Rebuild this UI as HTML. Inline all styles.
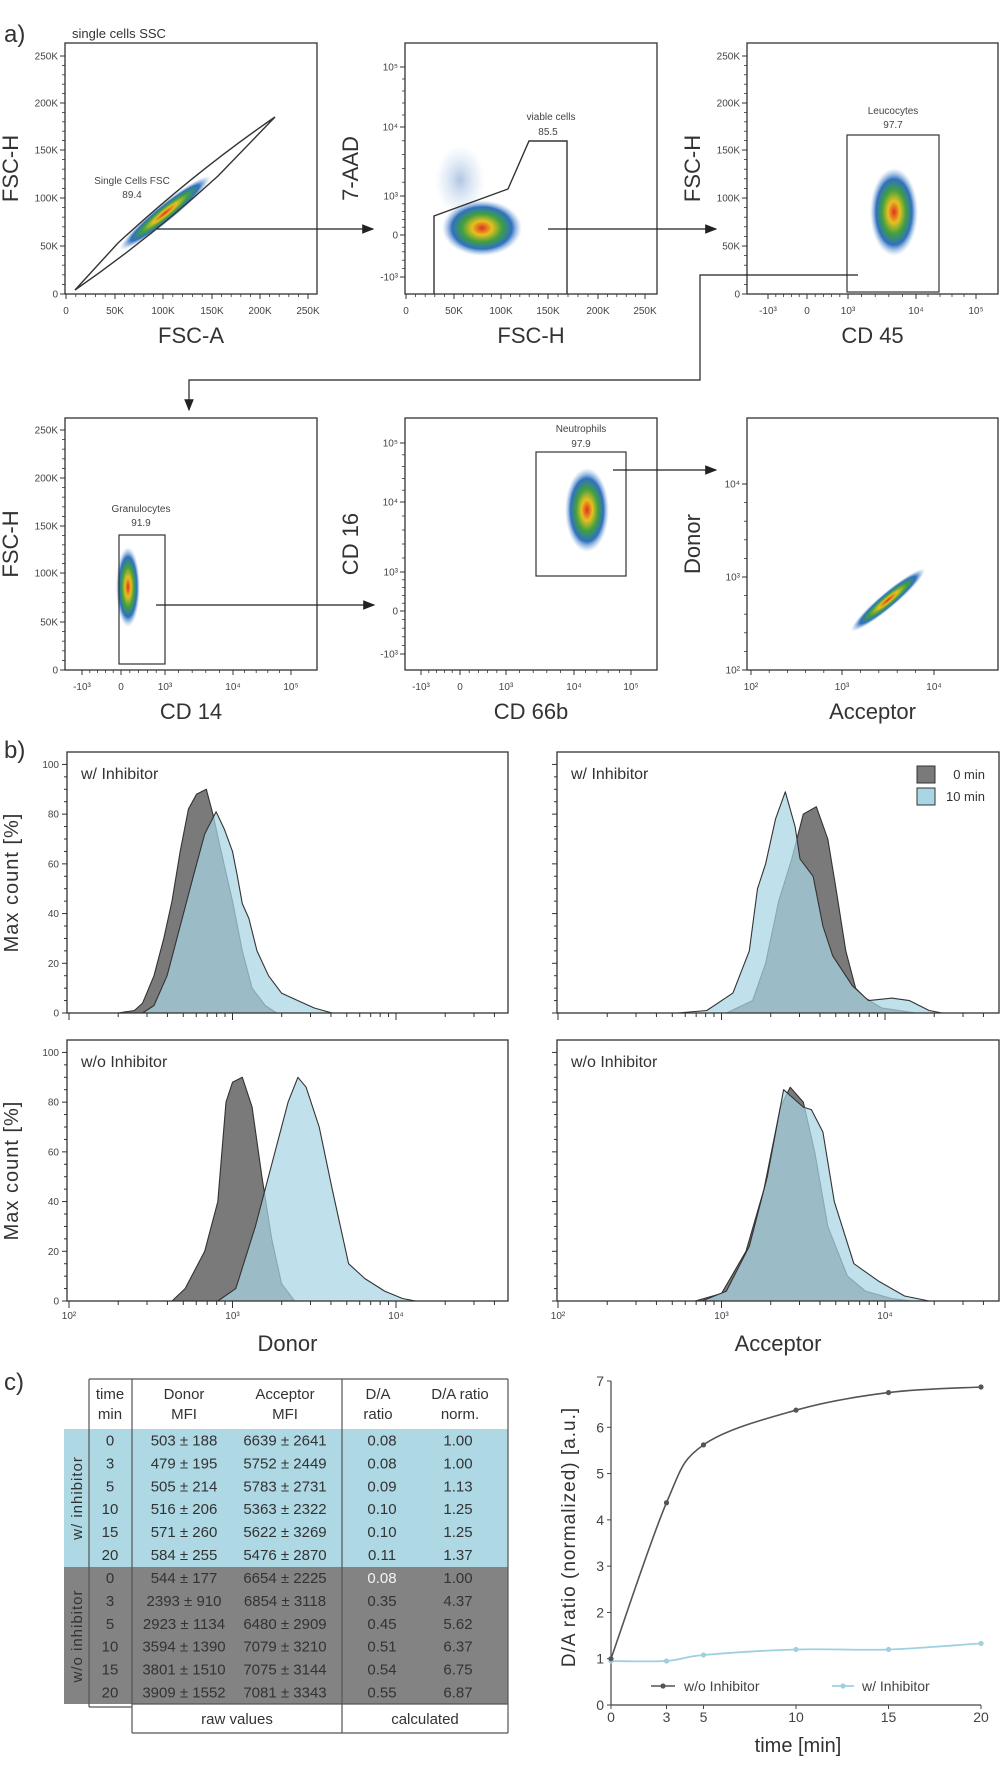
<!DOCTYPE html>
<html><head><meta charset="utf-8"><title>Flow cytometry FRET figure</title>
<style>
html,body{margin:0;padding:0;background:#fff;}
svg{display:block;font-family:"Liberation Sans Narrow","Liberation Sans",sans-serif;}
</style></head>
<body>
<svg id="fig" width="1000" height="1775" viewBox="0 0 1000 1775" xmlns="http://www.w3.org/2000/svg">
<defs>
<radialGradient id="dens" cx="50%" cy="50%" r="50%">
<stop offset="0" stop-color="#e03020"/>
<stop offset="0.25" stop-color="#e8c020"/>
<stop offset="0.5" stop-color="#40a040"/>
<stop offset="0.75" stop-color="#3070c0"/>
<stop offset="1" stop-color="#90b8e0" stop-opacity="0"/>
</radialGradient>
<radialGradient id="sparse" cx="50%" cy="50%" r="50%">
<stop offset="0" stop-color="#5080c0" stop-opacity="0.45"/>
<stop offset="1" stop-color="#90b8e0" stop-opacity="0"/>
</radialGradient>
<marker id="arr" markerWidth="10" markerHeight="8" refX="9" refY="4" orient="auto"><path d="M0,0 L10,4 L0,8 Z" fill="#222"/></marker>
</defs>

<text x="4" y="42" font-size="24" fill="#333">a)</text>
<text x="4" y="758" font-size="24" fill="#333">b)</text>
<text x="4" y="1390" font-size="24" fill="#333">c)</text>
<text x="72" y="38" font-size="13" fill="#333">single cells SSC</text>

<g id="panelsA"></g>

<g>
<ellipse cx="165" cy="213" rx="58" ry="9" transform="rotate(-39 165 213)" fill="url(#dens)"/>
<path d="M75,290 L118,243 Q195,172 275,117 L218,176 Q150,238 75,290 Z" fill="none" stroke="#333" stroke-width="1.4"/>
<text x="132" y="184" font-size="10" fill="#444" text-anchor="middle">Single Cells FSC</text>
<text x="132" y="198" font-size="10" fill="#444" text-anchor="middle">89.4</text>
</g>
<g>
<ellipse cx="460" cy="180" rx="25" ry="35" fill="url(#sparse)"/>
<ellipse cx="482" cy="228" rx="40" ry="28" fill="url(#dens)"/>
<path d="M434,294 L434,216 L508,189 L529,141 L567,141 L567,294" fill="none" stroke="#333" stroke-width="1.4"/>
<text x="551" y="120" font-size="10" fill="#444" text-anchor="middle">viable cells</text>
<text x="548" y="135" font-size="10" fill="#444" text-anchor="middle">85.5</text>
</g>
<g>
<ellipse cx="894" cy="212" rx="24" ry="44" fill="url(#dens)"/>
<rect x="847" y="135" width="92" height="157" fill="none" stroke="#333" stroke-width="1.2"/>
<text x="893" y="114" font-size="10" fill="#444" text-anchor="middle">Leucocytes</text>
<text x="893" y="128" font-size="10" fill="#444" text-anchor="middle">97.7</text>
</g>
<g>
<ellipse cx="128" cy="587" rx="12" ry="40" fill="url(#dens)"/>
<rect x="119" y="535" width="46" height="129" fill="none" stroke="#333" stroke-width="1.2"/>
<text x="141" y="512" font-size="10" fill="#444" text-anchor="middle">Granulocytes</text>
<text x="141" y="526" font-size="10" fill="#444" text-anchor="middle">91.9</text>
</g>
<g>
<ellipse cx="587" cy="510" rx="22" ry="42" fill="url(#dens)"/>
<rect x="536" y="452" width="90" height="124" fill="none" stroke="#333" stroke-width="1.2"/>
<text x="581" y="432" font-size="10" fill="#444" text-anchor="middle">Neutrophils</text>
<text x="581" y="447" font-size="10" fill="#444" text-anchor="middle">97.9</text>
</g>
<g>
<ellipse cx="888" cy="600" rx="48" ry="8" transform="rotate(-40 888 600)" fill="url(#dens)"/>
</g>

<g stroke="#222" stroke-width="1.2" fill="none">
<line x1="157" y1="229" x2="373" y2="229" marker-end="url(#arr)"/>
<line x1="548" y1="229" x2="716" y2="229" marker-end="url(#arr)"/>
<polyline points="858,275 700,275 700,380 189,380 189,410" marker-end="url(#arr)"/>
<line x1="156" y1="605" x2="374" y2="605" marker-end="url(#arr)"/>
<line x1="613" y1="470" x2="716" y2="470" marker-end="url(#arr)"/>
</g>

<g id="panelsB"></g>

<g>
<rect x="917" y="766" width="18" height="17" fill="#7a7a7a" stroke="#333"/>
<text x="985" y="779" font-size="13" fill="#333" text-anchor="end">0 min</text>
<rect x="917" y="788" width="18" height="17" fill="#a9d6e3" stroke="#333"/>
<text x="985" y="801" font-size="13" fill="#333" text-anchor="end">10 min</text>
</g>

<g id="table" font-size="15" fill="#333"></g>

<g id="lineChart"></g>
</svg>

<script>
const tlGrayLog = [2.30,2.40,2.45,2.52,2.58,2.63,2.68,2.73,2.78,2.84,2.88,2.93,3.00,3.06,3.12,3.20,3.27];
const tlGrayVal = [0,1,4,15,30,45,65,82,88,90,80,65,45,25,10,3,0];
const tlBlueLog = [2.45,2.52,2.60,2.68,2.76,2.83,2.90,2.95,3.00,3.03,3.06,3.10,3.15,3.22,3.30,3.40,3.50,3.61];
const tlBlueVal = [0,3,15,35,55,72,81,74,65,55,44,38,25,15,8,5,2,0];
const trGrayLog = [3.03,3.19,3.27,3.35,3.43,3.50,3.58,3.65,3.70,3.76,3.82,3.88,3.98,4.19];
const trGrayVal = [0,5,20,45,62,80,83,70,50,25,10,6,2,0];
const trBlueLog = [2.73,2.91,3.07,3.17,3.22,3.27,3.33,3.39,3.45,3.48,3.56,3.62,3.68,3.80,3.90,4.04,4.15,4.27,4.35];
const trBlueVal = [0,1,8,25,50,60,78,89,75,62,55,35,23,11,5,6,5,1,0];
const blGrayLog = [2.63,2.71,2.83,2.91,2.96,3.00,3.06,3.12,3.18,3.24,3.30,3.38];
const blGrayVal = [0,5,20,40,80,88,90,78,50,25,7,0];
const blBlueLog = [2.91,3.02,3.14,3.26,3.34,3.40,3.45,3.53,3.61,3.71,3.81,3.93,4.04,4.12];
const blBlueVal = [0,5,30,60,80,90,86,70,45,15,9,4,1,0];
const brGrayLog = [2.84,3.00,3.15,3.26,3.36,3.42,3.50,3.57,3.65,3.77,3.88,4.04,4.16];
const brGrayVal = [0,3,20,45,78,86,80,60,30,10,4,1,0];
const brBlueLog = [2.88,3.03,3.17,3.28,3.38,3.50,3.55,3.62,3.69,3.81,3.96,4.12,4.27];
const brBlueVal = [0,4,22,50,85,78,77,68,40,15,8,2,0];
const histYTicks = [0,20,40,60,80,100];
const histXTickLabels = ['10²','10³','10⁴'];
const histXTickLogs = [2,3,4];

const times = [0,3,5,10,15,20];
const woInhibitor = [1.00,4.37,5.62,6.37,6.75,6.87];
const wInhibitor = [0.95,0.95,1.08,1.20,1.20,1.33];
const chartYTicks = [0,1,2,3,4,5,6,7];
const tableTime = ['0','3','5','10','15','20','0','3','5','10','15','20'];
const tableDonor = ['503 ± 188','479 ± 195','505 ± 214','516 ± 206','571 ± 260','584 ± 255','544 ± 177','2393 ± 910','2923 ± 1134','3594 ± 1390','3801 ± 1510','3909 ± 1552'];
const tableAcceptor = ['6639 ± 2641','5752 ± 2449','5783 ± 2731','5363 ± 2322','5622 ± 3269','5476 ± 2870','6654 ± 2225','6854 ± 3118','6480 ± 2909','7079 ± 3210','7075 ± 3144','7081 ± 3343'];
const tableRatio = ['0.08','0.08','0.09','0.10','0.10','0.11','0.08','0.35','0.45','0.51','0.54','0.55'];
const tableNorm = ['1.00','1.00','1.13','1.25','1.25','1.37','1.00','4.37','5.62','6.37','6.75','6.87'];

const NS = 'http://www.w3.org/2000/svg';
function mk(tag, attrs, parent){ const e=document.createElementNS(NS,tag); for(const k in attrs) e.setAttribute(k,attrs[k]); parent.appendChild(e); return e; }
function txt(str, attrs, parent){ const e=mk('text',attrs,parent); e.textContent=str; return e; }

const gA = document.getElementById('panelsA');
const linLab = ['0','50K','100K','150K','200K','250K'];
const bioLab = ['-10³','0','10³','10⁴','10⁵'];
const panels = [
 {name:'fsc-a-vs-fsc-h', box:[65,43,317,294], xp:[66,115,163,212,260,308], xl:linLab, yp:[294,246,198,150,103,56], yl:linLab, xt:'FSC-A', yt:'FSC-H'},
 {name:'fsc-h-vs-7aad', box:[405,43,657,294], xp:[406,454,501,548,598,645], xl:linLab, yp:[277,235,196,127,67], yl:bioLab, xt:'FSC-H', yt:'7-AAD'},
 {name:'cd45-vs-fsc-h', box:[747,43,998,294], xp:[768,807,848,916,976], xl:bioLab, yp:[294,246,198,150,103,56], yl:linLab, xt:'CD 45', yt:'FSC-H'},
 {name:'cd14-vs-fsc-h', box:[65,418,317,670], xp:[82,121,165,233,291], xl:bioLab, yp:[670,622,573,526,478,430], yl:linLab, xt:'CD 14', yt:'FSC-H'},
 {name:'cd66b-vs-cd16', box:[405,418,657,670], xp:[421,460,506,574,631], xl:bioLab, yp:[654,611,572,502,443], yl:bioLab, xt:'CD 66b', yt:'CD 16'},
 {name:'acceptor-vs-donor', box:[747,418,998,670], xp:[751,842,934], xl:['10²','10³','10⁴'], yp:[670,577,484], yl:['10²','10³','10⁴'], xt:'Acceptor', yt:'Donor'}
];
panels.forEach(p=>{
  const g = mk('g',{},gA);
  
  
  const [x0,y0,x1,y1]=p.box;
  const r = mk('rect',{x:x0,y:y0,width:x1-x0,height:y1-y0,fill:'none',stroke:'#333','stroke-width':1.3},g);
  
  
  p.xp.forEach((x,i)=>{
    mk('line',{x1:x,y1:y1,x2:x,y2:y1+5,stroke:'#333','stroke-width':1},g);
    const t=txt(p.xl[i],{x:x,y:y1+20,'font-size':10,'text-anchor':'middle',fill:'#444'},g);
    
    
    if(i < p.xp.length-1){ const nx=p.xp[i+1]; for(let k=1;k < 5;k++){ const mx=x+(nx-x)*k/5; mk('line',{x1:mx,y1:y1,x2:mx,y2:y1+3,stroke:'#333','stroke-width':0.8},g);} }
  });
  p.yp.forEach((y,i)=>{
    mk('line',{x1:x0-5,y1:y,x2:x0,y2:y,stroke:'#333','stroke-width':1},g);
    const t=txt(p.yl[i],{x:x0-7,y:y+3.5,'font-size':10,'text-anchor':'end',fill:'#444'},g);
    
    
    if(i < p.yp.length-1){ const ny=p.yp[i+1]; for(let k=1;k < 5;k++){ const my=y+(ny-y)*k/5; mk('line',{x1:x0-3,y1:my,x2:x0,y2:my,stroke:'#333','stroke-width':0.8},g);} }
  });
  const xt=txt(p.xt,{x:(x0+x1)/2,y:y1+49,'font-size':22,'text-anchor':'middle',fill:'#333'},g);
  
  
  const cx=x0-47, cy=(y0+y1)/2;
  const yt=txt(p.yt,{x:cx,y:cy,'font-size':22,'text-anchor':'middle',fill:'#333',transform:`rotate(-90 ${cx} ${cy})`},g);
  
  
});

const gB = document.getElementById('panelsB');
const hPanels = [
 {name:'donor-with-inhibitor', box:[67,752,508,1013], x0:69, title:'w/ Inhibitor', gL:tlGrayLog, gV:tlGrayVal, bL:tlBlueLog, bV:tlBlueVal, xt:null},
 {name:'acceptor-with-inhibitor', box:[557,752,999,1013], x0:558, title:'w/ Inhibitor', gL:trGrayLog, gV:trGrayVal, bL:trBlueLog, bV:trBlueVal, xt:null},
 {name:'donor-without-inhibitor', box:[67,1040,508,1301], x0:69, title:'w/o Inhibitor', gL:blGrayLog, gV:blGrayVal, bL:blBlueLog, bV:blBlueVal, xt:'Donor'},
 {name:'acceptor-without-inhibitor', box:[557,1040,999,1301], x0:558, title:'w/o Inhibitor', gL:brGrayLog, gV:brGrayVal, bL:brBlueLog, bV:brBlueVal, xt:'Acceptor'}
];
hPanels.forEach((p,pi)=>{
  const g = mk('g',{},gB);
  
  
  const [bx0,by0,bx1,by1]=p.box;
  const dec=163.5;
  const xs = l => p.x0+(l-2)*dec;
  const yUnit = (by1-by0)/105;
  const ys = v => by1 - v*yUnit;
  function area(L,V,fill,name){
    let d=`M${xs(L[0])},${by1}`;
    L.forEach((l,i)=>{ d+=` L${xs(l).toFixed(1)},${ys(V[i]).toFixed(1)}`; });
    d+=` L${xs(L[L.length-1])},${by1} Z`;
    const e=mk('path',{d:d,fill:fill,stroke:'#333','stroke-width':1.1,'stroke-linejoin':'round'},g);
    
    
  }
  area(p.gL,p.gV,'#7a7a7a','histogram-0-min');
  area(p.bL,p.bV,'rgba(168,214,228,0.72)','histogram-10-min');
  const fr=mk('rect',{x:bx0,y:by0,width:bx1-bx0,height:by1-by0,fill:'none',stroke:'#333','stroke-width':1.3},g);
  
  
  for(let v=0; v <= 100; v+=5){
    const maj = histYTicks.includes(v);
    mk('line',{x1:bx0-(maj?5:3),y1:ys(v),x2:bx0,y2:ys(v),stroke:'#333','stroke-width':1},g);
  }
  if(pi%2===0){
    histYTicks.forEach(v=>{
      const t=txt(String(v),{x:bx0-8,y:ys(v)+3.5,'font-size':10,'text-anchor':'end',fill:'#444'},g);
      
      
    });
    const cx=18, cy=(by0+by1)/2;
    const yt=txt('Max count [%]',{x:cx,y:cy,'font-size':20,'text-anchor':'middle',fill:'#333',transform:`rotate(-90 ${cx} ${cy})`,'letter-spacing':'1'},g);
    
    
  }
  for(let dcd=2; dcd <= 4; dcd++){
    for(let m=1;m <= 9;m++){
      const l=dcd+Math.log10(m); const x=xs(l); if(x > bx1) continue;
      mk('line',{x1:x,y1:by1,x2:x,y2:by1+(m===1?7:4),stroke:'#333','stroke-width':1},g);
    }
  }
  if(p.xt){
    histXTickLogs.forEach((l,i)=>{
      const t=txt(histXTickLabels[i],{x:xs(l),y:by1+18,'font-size':10,'text-anchor':'middle',fill:'#444'},g);
      
      
    });
    const xt=txt(p.xt,{x:(bx0+bx1)/2,y:by1+50,'font-size':22,'text-anchor':'middle',fill:'#333'},g);
    
    
  }
  const tt=txt(p.title,{x:bx0+14,y:by0+27,'font-size':16,fill:'#333'},g);
  
  
});

const gT = document.getElementById('table');
const rowTop=1429, rowH=(1704-1429)/12;
const bg1=mk('rect',{x:64,y:1429,width:444,height:138,fill:'#aed8e4'},gT);


const bg2=mk('rect',{x:64,y:1567,width:444,height:137,fill:'#838383'},gT);


[[89,1379,89,1707],[132,1379,132,1733],[342,1379,342,1733],[508,1379,508,1733],[89,1379,508,1379],[132,1733,508,1733],[89,1707,132,1707],[132,1704,508,1704]].forEach(l=>{
  mk('line',{x1:l[0],y1:l[1],x2:l[2],y2:l[3],stroke:'#555','stroke-width':1.2},gT);
});
const hdr=[[110,'time','min'],[184,'Donor','MFI'],[285,'Acceptor','MFI'],[378,'D/A','ratio'],[460,'D/A ratio','norm.']];
hdr.forEach(h=>{
  const a=txt(h[1],{x:h[0],y:1399,'text-anchor':'middle'},gT);
  
  
  const b=txt(h[2],{x:h[0],y:1419,'text-anchor':'middle'},gT);
  
  
});
tableTime.forEach((t,i)=>{
  const y=rowTop+rowH*(i+0.5)+5;
  const c1=txt(t,{x:110,y:y,'text-anchor':'middle'},gT);
  
  
  const c2=txt(tableDonor[i],{x:184,y:y,'text-anchor':'middle'},gT);
  
  
  const c3=txt(tableAcceptor[i],{x:285,y:y,'text-anchor':'middle'},gT);
  
  
  const c4=txt(tableRatio[i],{x:382,y:y,'text-anchor':'middle',fill:(i===6?'#f4f4f4':'#333')},gT);
  
  
  const c5=txt(tableNorm[i],{x:458,y:y,'text-anchor':'middle'},gT);
  
  
});
const f1=txt('raw values',{x:237,y:1724,'text-anchor':'middle'},gT);


const f2=txt('calculated',{x:425,y:1724,'text-anchor':'middle'},gT);


const r1=txt('w/ inhibitor',{x:0,y:0,'text-anchor':'middle',transform:'translate(82,1498) rotate(-90)','letter-spacing':'1'},gT);


const r2=txt('w/o inhibitor',{x:0,y:0,'text-anchor':'middle',transform:'translate(82,1636) rotate(-90)','letter-spacing':'1'},gT);



const gL = document.getElementById('lineChart');
const cx0=611, cx1=981, cy0=1705, cy7=1381;
const xS = t => cx0 + (t/20)*(cx1-cx0);
const yS = v => cy0 - (v/7)*(cy0-cy7);
mk('line',{x1:cx0,y1:cy7,x2:cx0,y2:cy0,stroke:'#444','stroke-width':1.2},gL);
mk('line',{x1:cx0,y1:cy0,x2:cx1,y2:cy0,stroke:'#444','stroke-width':1.2},gL);
chartYTicks.forEach(v=>{
  mk('line',{x1:cx0-4,y1:yS(v),x2:cx0,y2:yS(v),stroke:'#444'},gL);
  const t=txt(String(v),{x:cx0-7,y:yS(v)+5,'font-size':14,'text-anchor':'end',fill:'#444'},gL);
  
  
});
times.forEach(tm=>{
  mk('line',{x1:xS(tm),y1:cy0,x2:xS(tm),y2:cy0+4,stroke:'#444'},gL);
  const t=txt(String(tm),{x:xS(tm),y:1722,'font-size':14,'text-anchor':'middle',fill:'#444'},gL);
  
  
});
function smooth(vals){
  const P=times.map((t,i)=>[xS(t),yS(vals[i])]);
  let d=`M${P[0][0]},${P[0][1]}`;
  for(let i=0;i < P.length-1;i++){
    const p0=P[i-1]||P[i], p1=P[i], p2=P[i+1], p3=P[i+2]||p2;
    const c1=[p1[0]+(p2[0]-p0[0])/6, p1[1]+(p2[1]-p0[1])/6];
    const c2=[p2[0]-(p3[0]-p1[0])/6, p2[1]-(p3[1]-p1[1])/6];
    d+=` C${c1[0].toFixed(1)},${c1[1].toFixed(1)} ${c2[0].toFixed(1)},${c2[1].toFixed(1)} ${p2[0].toFixed(1)},${p2[1].toFixed(1)}`;
  }
  return d;
}
const lw=mk('path',{d:smooth(wInhibitor),fill:'none',stroke:'#9fd0e0','stroke-width':1.8},gL);


const lwo=mk('path',{d:smooth(woInhibitor),fill:'none',stroke:'#555','stroke-width':1.6},gL);


times.forEach((t,i)=>{
  const a=mk('circle',{cx:xS(t),cy:yS(wInhibitor[i]),r:2.6,fill:'#9fd0e0'},gL);
  
  
  const b=mk('circle',{cx:xS(t),cy:yS(woInhibitor[i]),r:2.6,fill:'#555'},gL);
  
  
});
mk('line',{x1:651,y1:1686,x2:675,y2:1686,stroke:'#555','stroke-width':1.6},gL);
mk('circle',{cx:663,cy:1686,r:2.6,fill:'#555'},gL);
const lg1=txt('w/o Inhibitor',{x:684,y:1691,'font-size':14,fill:'#444'},gL);


mk('line',{x1:832,y1:1686,x2:854,y2:1686,stroke:'#9fd0e0','stroke-width':1.8},gL);
mk('circle',{cx:843,cy:1686,r:2.6,fill:'#9fd0e0'},gL);
const lg2=txt('w/ Inhibitor',{x:862,y:1691,'font-size':14,fill:'#444'},gL);


const xTitle=txt('time [min]',{x:798,y:1752,'font-size':20,'text-anchor':'middle',fill:'#333'},gL);


const yTitle=txt('D/A ratio (normalized) [a.u.]',{x:0,y:0,'font-size':19,'text-anchor':'middle',fill:'#333',transform:'translate(575,1537) rotate(-90)','letter-spacing':'1'},gL);


</script>
</body></html>
